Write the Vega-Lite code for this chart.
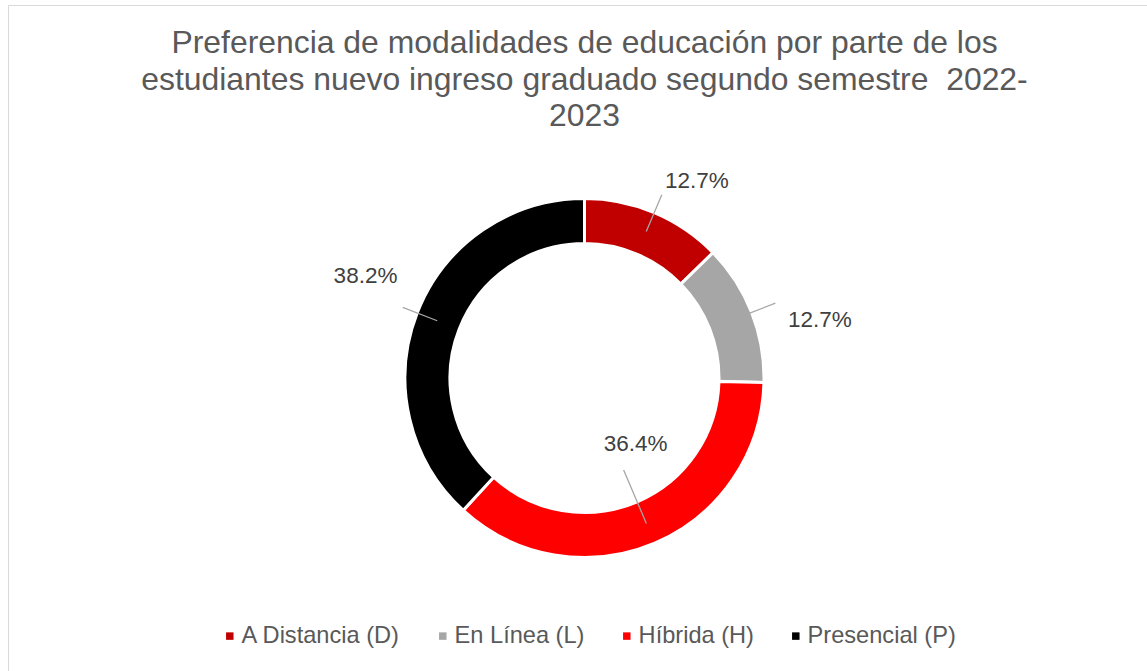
{
  "$schema": "https://vega.github.io/schema/vega-lite/v6.json",
  "width": 1152,
  "height": 745,
  "autosize": {"type": "none"},
  "padding": {"left": 8.5, "top": 5.5, "right": -13.5, "bottom": -79.5},
  "background": "white",
  "title": {
    "text": [
      "Preferencia de modalidades de educación por parte de los",
      "estudiantes nuevo ingreso graduado segundo semestre \u00a02022-",
      "2023"
    ],
    "font": "Liberation Sans",
    "fontSize": 31.9,
    "fontWeight": "normal",
    "color": "#595959",
    "lineHeight": 36.5,
    "anchor": "middle",
    "offset": -128
  },
  "data": {
    "values": [
      {"modalidad": "A Distancia (D)", "porcentaje": 12.7, "etiqueta": "12.7%"},
      {"modalidad": "En Línea (L)", "porcentaje": 12.7, "etiqueta": "12.7%"},
      {"modalidad": "Híbrida (H)", "porcentaje": 36.4, "etiqueta": "36.4%"},
      {"modalidad": "Presencial (P)", "porcentaje": 38.2, "etiqueta": "38.2%"}
    ]
  },
  "layer": [
    {
      "data": {"values": [{"marco": "borde"}]},
      "mark": {"type": "rect", "fill": "transparent", "stroke": "#D9D9D9", "strokeWidth": 1},
      "encoding": {
        "x": {"value": 0},
        "x2": {"value": "width"},
        "y": {"value": 0},
        "y2": {"value": "height"}
      }
    },
    {
      "encoding": {
        "theta": {"field": "porcentaje", "type": "quantitative", "stack": true},
        "order": {"field": "modalidad", "sort": "ascending"}
      },
      "layer": [
        {
          "mark": {"type": "arc", "innerRadius": 134.5, "outerRadius": 179.5, "stroke": "white", "strokeWidth": 3},
          "encoding": {
            "color": {
              "field": "modalidad",
              "type": "nominal",
              "scale": {
                "domain": ["A Distancia (D)", "En Línea (L)", "Híbrida (H)", "Presencial (P)"],
                "range": ["#C00000", "#A6A6A6", "#FF0000", "#000000"]
              },
              "legend": {
                "orient": "none",
                "legendX": 209.5,
                "legendY": 618.5,
                "direction": "horizontal",
                "title": null,
                "symbolType": "square",
                "symbolSize": 56,
                "symbolStrokeWidth": 0,
                "labelFont": "Liberation Sans",
                "labelFontSize": 23.6,
                "labelColor": "#595959",
                "labelOffset": 0,
                "columnPadding": 30,
                "padding": 0,
                "labelLimit": 0
              }
            }
          }
        },
        {
          "mark": {"type": "arc", "radius": 159, "radius2": 199, "padAngle": 3, "fill": "transparent", "stroke": "#A6A6A6", "strokeWidth": 1.3},
          "encoding": {"strokeOpacity": {"condition": {"test": "datum.modalidad === 'A Distancia (D)'", "value": 1}, "value": 0}}
        },
        {
          "mark": {"type": "arc", "radius": 172, "radius2": 205, "padAngle": 3, "fill": "transparent", "stroke": "#A6A6A6", "strokeWidth": 1.3},
          "encoding": {"strokeOpacity": {"condition": {"test": "datum.modalidad === 'En Línea (L)'", "value": 1}, "value": 0}}
        },
        {
          "mark": {"type": "arc", "radius": 100, "radius2": 158, "padAngle": 3, "fill": "transparent", "stroke": "#A6A6A6", "strokeWidth": 1.3},
          "encoding": {"strokeOpacity": {"condition": {"test": "datum.modalidad === 'Híbrida (H)'", "value": 1}, "value": 0}}
        },
        {
          "mark": {"type": "arc", "radius": 158, "radius2": 195, "padAngle": 3, "fill": "transparent", "stroke": "#A6A6A6", "strokeWidth": 1.3},
          "encoding": {"strokeOpacity": {"condition": {"test": "datum.modalidad === 'Presencial (P)'", "value": 1}, "value": 0}}
        },
        {
          "mark": {"type": "text", "radius": 226.9, "thetaOffset": 0.1194, "font": "Liberation Sans", "fontSize": 22.5, "color": "#404040", "align": "center", "baseline": "middle"},
          "encoding": {
            "text": {"field": "etiqueta"},
            "opacity": {"condition": {"test": "datum.modalidad === 'A Distancia (D)'", "value": 1}, "value": 0}
          }
        },
        {
          "mark": {"type": "text", "radius": 242.6, "thetaOffset": 0.131, "font": "Liberation Sans", "fontSize": 22.5, "color": "#404040", "align": "center", "baseline": "middle"},
          "encoding": {
            "text": {"field": "etiqueta"},
            "opacity": {"condition": {"test": "datum.modalidad === 'En Línea (L)'", "value": 1}, "value": 0}
          }
        },
        {
          "mark": {"type": "text", "radius": 83.4, "thetaOffset": -0.2566, "font": "Liberation Sans", "fontSize": 22.5, "color": "#404040", "align": "center", "baseline": "middle"},
          "encoding": {
            "text": {"field": "etiqueta"},
            "opacity": {"condition": {"test": "datum.modalidad === 'Híbrida (H)'", "value": 1}, "value": 0}
          }
        },
        {
          "mark": {"type": "text", "radius": 241.5, "thetaOffset": 0.0646, "font": "Liberation Sans", "fontSize": 22.5, "color": "#404040", "align": "center", "baseline": "middle"},
          "encoding": {
            "text": {"field": "etiqueta"},
            "opacity": {"condition": {"test": "datum.modalidad === 'Presencial (P)'", "value": 1}, "value": 0}
          }
        }
      ]
    }
  ],
  "config": {
    "view": {"stroke": null}
  }
}
